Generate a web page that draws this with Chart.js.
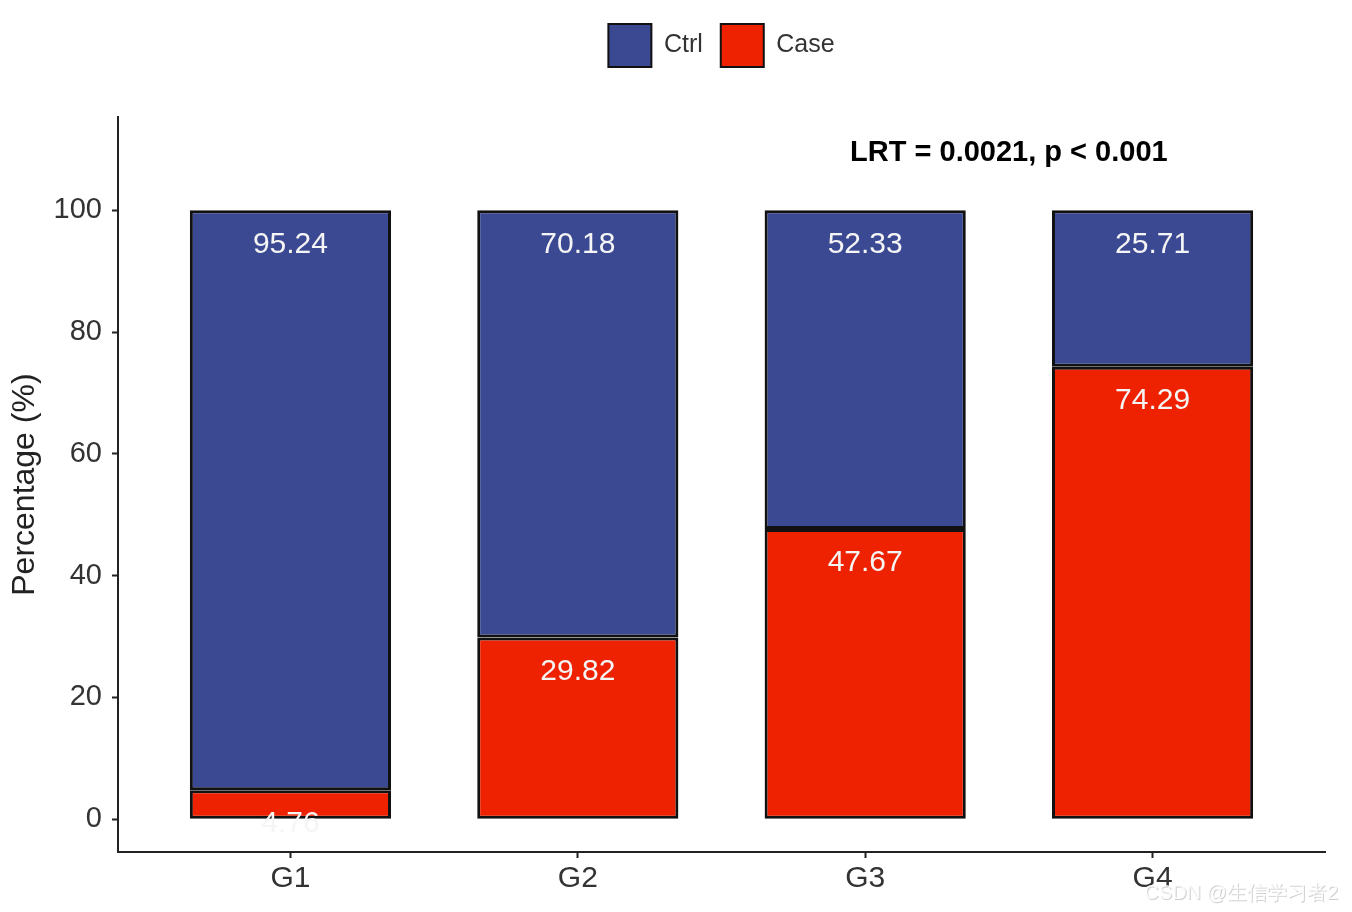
<!DOCTYPE html>
<html>
<head>
<meta charset="utf-8">
<script src="https://cdn.jsdelivr.net/npm/chart.js@4.4.1/dist/chart.umd.min.js"></script>
<style>
  html, body { margin: 0; padding: 0; background: #ffffff; }
  #wrap { width: 1352px; height: 912px; }
</style>
</head>
<body>
<div id="wrap"><canvas id="grafico" width="1352" height="912"></canvas></div>
<script>
// dados
const grupos = ["G1", "G2", "G3", "G4"];
const valoresCase = [4.76, 29.82, 47.67, 74.29];
const valoresCtrl = [95.24, 70.18, 52.33, 25.71];
const ticksY = [0, 20, 40, 60, 80, 100];
const textoTeste = "LRT = 0.0021, p < 0.001";

const corCtrl = "#3B4992";
const corCase = "#EE2200";
const fonte = "'Liberation Sans', Arial, sans-serif";

// rótulos brancos dentro de cada segmento
const rotulosPlugin = {
    id: "rotulos",
    afterDatasetsDraw(chart) {
        const ctx = chart.ctx;
        ctx.save();
        ctx.font = "30px " + fonte;
        ctx.fillStyle = "#f5f5f5";
        ctx.textAlign = "center";
        ctx.textBaseline = "middle";
        chart.data.datasets.forEach((ds, i) => {
            const meta = chart.getDatasetMeta(i);
            meta.data.forEach((bar, j) => {
                ctx.fillText(ds.data[j].y.toFixed(2), bar.x, bar.y + 34);
            });
        });
        ctx.restore();
    }
};

// texto do teste + marca d'água
const anotacaoPlugin = {
    id: "anotacao",
    afterDraw(chart) {
        const ctx = chart.ctx;
        const x = chart.scales.x.getPixelForValue(3.5);
        const y = chart.scales.y.getPixelForValue(109.5);
        ctx.save();
        ctx.font = "bold 29px " + fonte;
        ctx.fillStyle = "#000000";
        ctx.textAlign = "center";
        ctx.textBaseline = "middle";
        ctx.fillText(textoTeste, x, y);

        ctx.font = "20px " + fonte;
        ctx.textAlign = "right";
        ctx.fillStyle = "rgba(120,120,120,0.35)";
        ctx.fillText("CSDN @生信学习者2", 1339, 894);
        ctx.fillStyle = "rgba(255,255,255,0.85)";
        ctx.fillText("CSDN @生信学习者2", 1338, 893);
        ctx.restore();
    }
};

new Chart(document.getElementById("grafico"), {
    type: "bar",
    data: {
        datasets: [
            {
                label: "Case",
                data: valoresCase.map((v, i) => ({ x: i + 1, y: v })),
                backgroundColor: corCase,
                borderColor: "#111111",
                borderWidth: 3,
                borderSkipped: false
            },
            {
                label: "Ctrl",
                data: valoresCtrl.map((v, i) => ({ x: i + 1, y: v })),
                backgroundColor: corCtrl,
                borderColor: "#111111",
                borderWidth: 3,
                borderSkipped: false
            }
        ]
    },
    options: {
        responsive: false,
        animation: false,
        devicePixelRatio: 1,
        barPercentage: 0.7,
        categoryPercentage: 1,
        layout: { padding: { left: 0, right: 27, top: 6, bottom: 0 } },
        plugins: {
            tooltip: { enabled: false },
            // espaçador entre a legenda e o painel
            title: {
                display: true,
                text: "",
                weight: 500,
                font: { size: 1 },
                padding: { top: 0, bottom: 39 }
            },
            legend: {
                position: "top",
                fullSize: false,
                reverse: true,
                labels: {
                    boxWidth: 43,
                    boxHeight: 43,
                    padding: 18,
                    color: "#333333",
                    font: { size: 25, family: fonte },
                    generateLabels(chart) {
                        return chart.data.datasets.map((ds, i) => ({
                            text: ds.label,
                            fillStyle: ds.backgroundColor,
                            strokeStyle: "#111111",
                            lineWidth: 2,
                            datasetIndex: i,
                            fontColor: "#333333"
                        }));
                    }
                }
            }
        },
        scales: {
            x: {
                type: "linear",
                stacked: true,
                offset: false,
                min: 0.4,
                max: 4.6,
                afterBuildTicks(scale) {
                    scale.ticks = grupos.map((g, i) => ({ value: i + 1 }));
                },
                afterFit(scale) { scale.height = 60; },
                ticks: {
                    color: "#333333",
                    font: { size: 30, family: fonte },
                    padding: 3,
                    callback: (v) => grupos[v - 1]
                },
                grid: {
                    offset: false,
                    drawOnChartArea: false,
                    drawTicks: true,
                    tickLength: 6,
                    tickWidth: 2,
                    tickColor: "#222222"
                },
                border: { display: true, color: "#222222", width: 2 }
            },
            y: {
                stacked: true,
                min: -5.4,
                max: 115.3,
                afterBuildTicks(scale) {
                    scale.ticks = ticksY.map((v) => ({ value: v }));
                },
                afterFit(scale) { scale.width = 118; },
                ticks: {
                    color: "#333333",
                    font: { size: 29, family: fonte },
                    padding: 10
                },
                grid: {
                    drawOnChartArea: false,
                    drawTicks: true,
                    tickLength: 6,
                    tickWidth: 2,
                    tickColor: "#222222"
                },
                border: { display: true, color: "#222222", width: 2 },
                title: {
                    display: true,
                    text: "Percentage (%)",
                    color: "#222222",
                    font: { size: 32, family: fonte },
                    padding: { top: 6, bottom: 0 }
                }
            }
        }
    },
    plugins: [rotulosPlugin, anotacaoPlugin]
});
</script>
</body>
</html>
